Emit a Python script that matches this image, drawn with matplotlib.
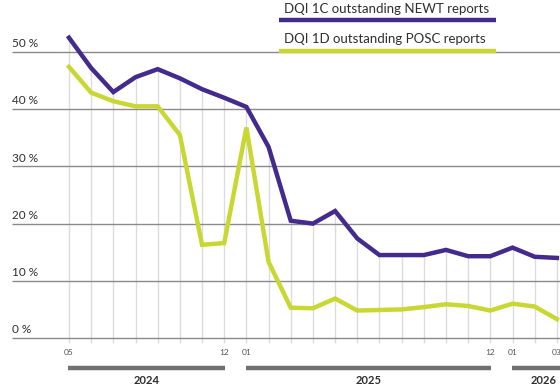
import matplotlib

matplotlib.use("Agg")
import matplotlib.pyplot as plt
import numpy as np

# monthly series, 2024-05 .. 2026-03
months = ["05", "06", "07", "08", "09", "10", "11", "12",
          "01", "02", "03", "04", "05", "06", "07", "08", "09", "10", "11", "12",
          "01", "02", "03"]
newt = [52.5, 47.2, 43.0, 45.6, 47.0, 45.4, 43.5, 42.0,
        40.4, 33.4, 20.5, 20.0, 22.2, 17.4, 14.5, 14.5, 14.5, 15.4, 14.3, 14.3,
        15.8, 14.2, 14.0]
posc = [47.4, 42.9, 41.4, 40.5, 40.5, 35.5, 16.3, 16.6,
        36.8, 13.3, 5.3, 5.2, 6.9, 4.8, 4.9, 5.0, 5.4, 5.9, 5.6, 4.8,
        6.0, 5.5, 3.3]
labelled_months = [0, 7, 8, 19, 20, 22]
years = ["2024", "2025", "2026"]
year_spans = [(0, 7), (8, 19), (20, 23)]
y_ticks = [0, 10, 20, 30, 40, 50]
series_labels = ["DQI 1C outstanding NEWT reports", "DQI 1D outstanding POSC reports"]

PURPLE = "#432a8c"
GREEN = "#c9d733"
TEXT = "#2e2e2e"

plt.rcParams["font.family"] = ["Lato", "DejaVu Sans"]

fig = plt.figure(figsize=(5.6, 3.9), dpi=100)
ax = fig.add_axes([0, 0, 1, 1])
ax.set_xlim(-3.11, 22.14)
ax.set_ylim(-9.09, 59.09)
ax.axis("off")

x = np.arange(len(months))

# vertical month guides run up to the higher of the two series
tops = np.maximum(newt, posc)
ax.vlines(x, -0.8, tops, color="#dcdcdc", lw=1.0, zorder=1)

# horizontal gridlines + percent labels
for v in y_ticks:
    ax.hlines(v, -2.57, 23, color="#8a8a8a", lw=1.0, zorder=2)
    ax.text(-2.55, v + 0.5, f"{v} %", ha="left", va="bottom", fontsize=8.5, color=TEXT)

ax.plot(x, newt, color=PURPLE, lw=3.2, solid_joinstyle="miter", zorder=4)
ax.plot(x, posc, color=GREEN, lw=3.2, solid_joinstyle="miter", zorder=3)

for i in labelled_months:
    ax.text(x[i], -2.6, months[i], ha="center", va="center", fontsize=6, color="#555555")

# year brackets under the month labels
for year, (a, b) in zip(years, year_spans):
    ax.hlines(-5.2, a - 0.04, b + 0.04, color="#707070", lw=3.2, zorder=2)
    mid = (a + b) / 2 if b < len(months) else a + 1.4
    ax.text(mid, -7.4, year, ha="center", va="center", fontsize=8,
            fontweight="bold", color=TEXT)

# legend: label text over a thick colour rule
for k, (label, color) in enumerate(zip(series_labels, [PURPLE, GREEN])):
    top = 1 - (9 + 30 * k) / 390
    rule = 1 - (20 + 31 * k) / 390
    ax.text(284 / 560, top, label, transform=ax.transAxes, ha="left", va="center",
            fontsize=9.5, color=TEXT)
    ax.plot([279 / 560, 496 / 560], [rule, rule], transform=ax.transAxes,
            color=color, lw=3.2, solid_capstyle="butt")

fig.savefig("out.png", dpi=100)
